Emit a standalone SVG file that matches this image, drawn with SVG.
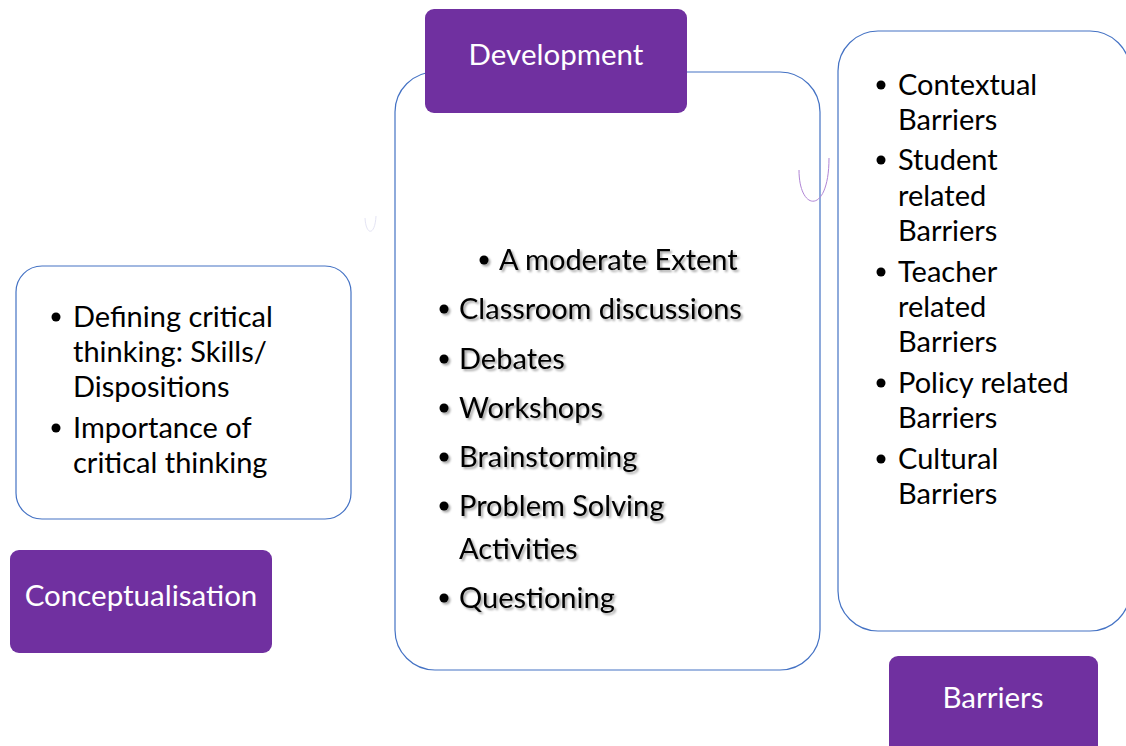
<svg xmlns="http://www.w3.org/2000/svg" width="1126" height="746" viewBox="0 0 1126 746">
<style>
.box{fill:#fff;stroke:#4472C4;stroke-width:1.2}
.head{fill:#7030A0}
.ht{font-family:Lato,"Open Sans",sans-serif;font-size:29.5px;fill:#fff;text-anchor:middle}
.t{font-family:Lato,"Open Sans",sans-serif;font-size:29px;fill:#000}
.b{fill:#000}
</style>
<defs>
<filter id="sh" x="-10%" y="-30%" width="120%" height="160%">
<feGaussianBlur in="SourceAlpha" stdDeviation="1.2"/>
<feOffset dx="2" dy="2" result="o"/>
<feFlood flood-color="#000" flood-opacity="0.35"/>
<feComposite in2="o" operator="in"/>
<feMerge><feMergeNode/><feMergeNode in="SourceGraphic"/></feMerge>
</filter>
</defs>
<rect width="1126" height="746" fill="#fff"/>
<g id="development-panel">
<rect class="box" x="395" y="72" width="425" height="598" rx="40"/>
<g filter="url(#sh)">
<circle class="b" cx="484" cy="260" r="4.5"/>
<text class="t" x="499" y="270">A moderate Extent</text>
<circle class="b" cx="444" cy="309" r="4.5"/>
<text class="t" x="459" y="319">Classroom discussions</text>
<circle class="b" cx="444" cy="359" r="4.5"/>
<text class="t" x="459" y="369">Debates</text>
<circle class="b" cx="444" cy="408" r="4.5"/>
<text class="t" x="459" y="418">Workshops</text>
<circle class="b" cx="444" cy="457" r="4.5"/>
<text class="t" x="459" y="467">Brainstorming</text>
<circle class="b" cx="444" cy="506" r="4.5"/>
<text class="t" x="459" y="516">Problem Solving</text>
<text class="t" x="459" y="559">Activities</text>
<circle class="b" cx="444" cy="598" r="4.5"/>
<text class="t" x="459" y="608">Questioning</text>
</g>
</g>
<g id="development">
<rect class="head" x="425" y="9" width="262" height="104" rx="9"/>
<text class="ht" x="556" y="65">Development</text>
</g>
<g id="conceptualisation-panel">
<rect class="box" x="16" y="266" width="335" height="253" rx="26"/>
<circle class="b" cx="56" cy="317" r="4.5"/>
<text class="t" x="73" y="327">Defining critical</text>
<text class="t" x="73" y="362">thinking: Skills/</text>
<text class="t" x="73" y="397">Dispositions</text>
<circle class="b" cx="56" cy="428" r="4.5"/>
<text class="t" x="73" y="438">Importance of</text>
<text class="t" x="73" y="473">critical thinking</text>
</g>
<g id="conceptualisation">
<rect class="head" x="10" y="550" width="262" height="103" rx="9"/>
<text class="ht" x="141" y="606">Conceptualisation</text>
</g>
<g id="barriers-panel">
<rect class="box" x="838" y="31" width="292" height="600" rx="40"/>
<circle class="b" cx="881" cy="85" r="4.5"/>
<text class="t" x="898" y="95">Contextual</text>
<text class="t" x="898" y="130">Barriers</text>
<circle class="b" cx="881" cy="160" r="4.5"/>
<text class="t" x="898" y="170">Student</text>
<text class="t" x="898" y="206">related</text>
<text class="t" x="898" y="241">Barriers</text>
<circle class="b" cx="881" cy="272" r="4.5"/>
<text class="t" x="898" y="282">Teacher</text>
<text class="t" x="898" y="317">related</text>
<text class="t" x="898" y="352">Barriers</text>
<circle class="b" cx="881" cy="383" r="4.5"/>
<text class="t" x="898" y="393">Policy related</text>
<text class="t" x="898" y="428">Barriers</text>
<circle class="b" cx="881" cy="459" r="4.5"/>
<text class="t" x="898" y="469">Cultural</text>
<text class="t" x="898" y="504">Barriers</text>
</g>
<g id="barriers">
<rect class="head" x="889" y="656" width="209" height="110" rx="9"/>
<text class="ht" x="993" y="708">Barriers</text>
</g>
<g id="connectors">
<path d="M799 170 C799 212 829 215 829 158" fill="none" stroke="#B085D5" stroke-width="1"/>
<path d="M365 218 C366 236 375 236 376 216" fill="none" stroke="#E4E4F4" stroke-width="1"/>
</g>
</svg>
